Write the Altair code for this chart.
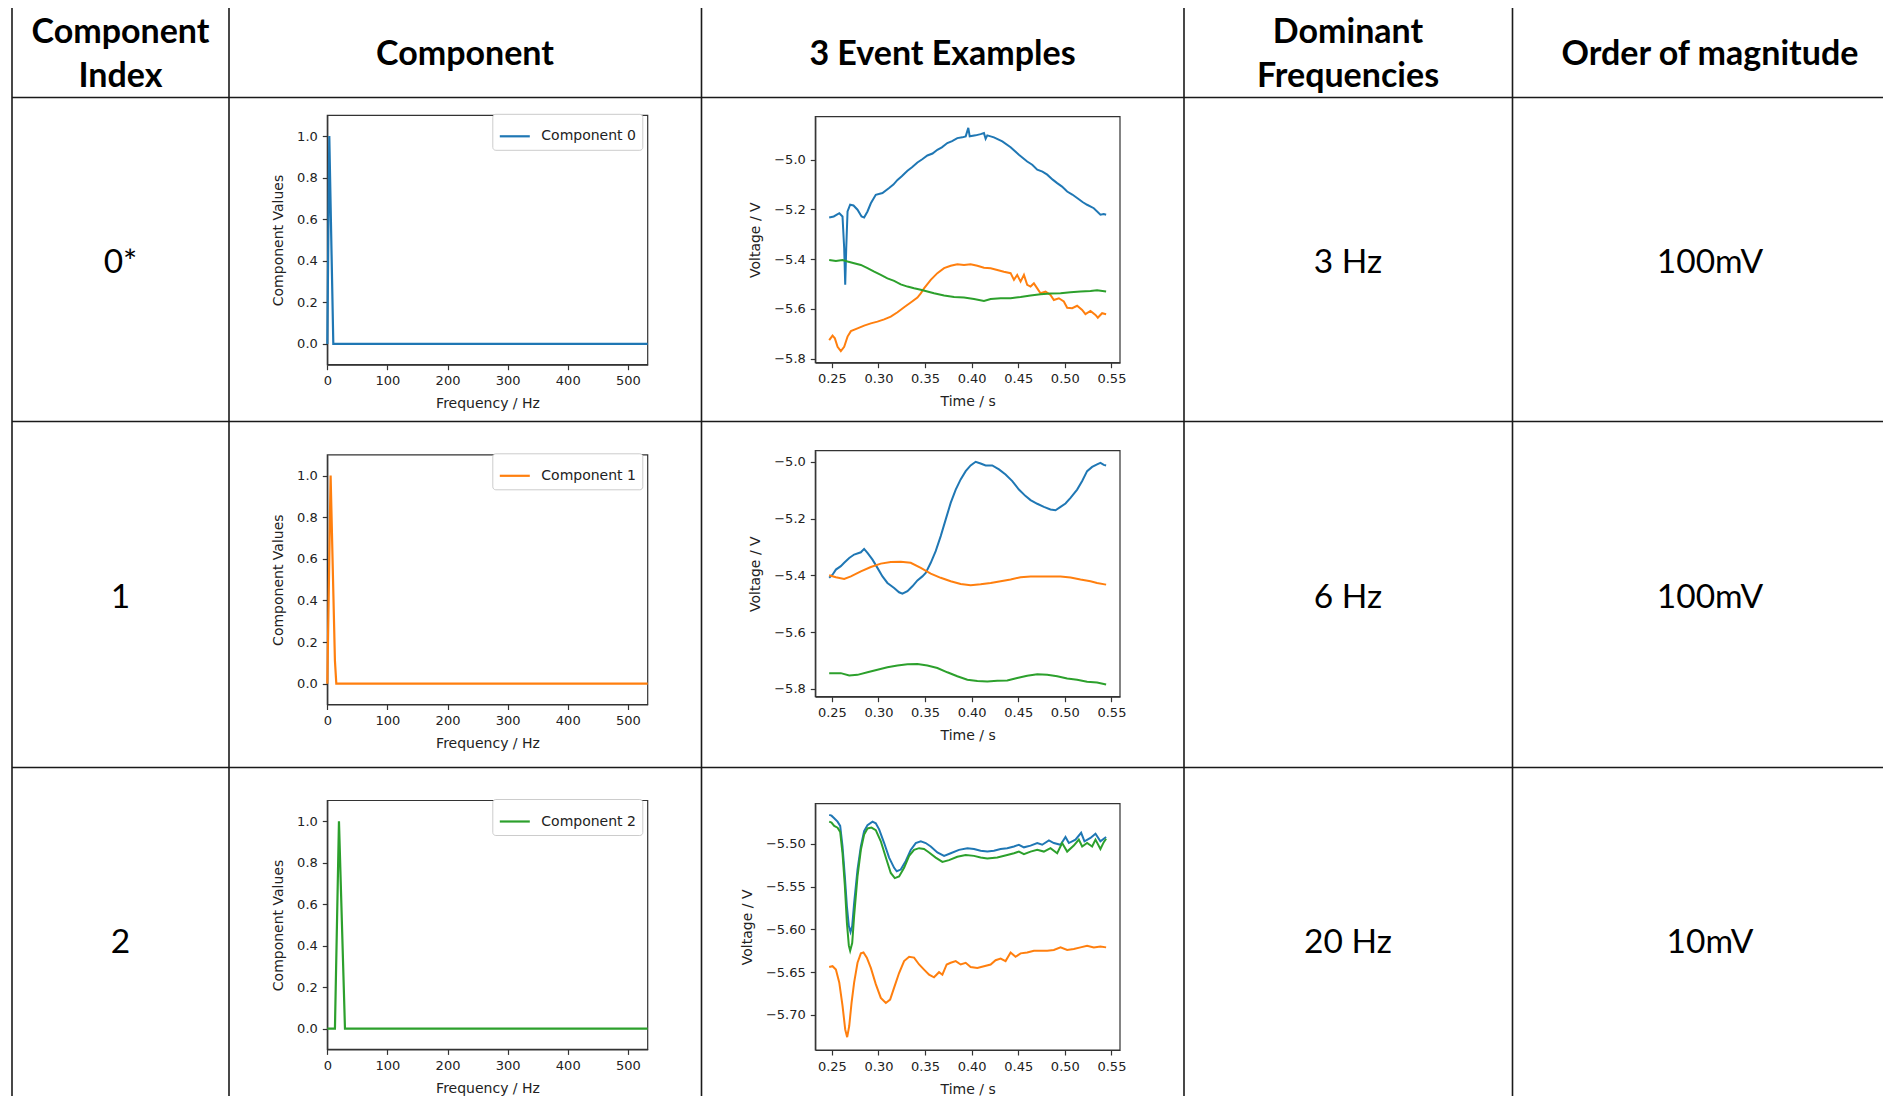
import altair as alt
import pandas as pd

# ---------------- table text ----------------
HEADERS = ["Component\nIndex", "Component", "3 Event Examples", "Dominant\nFrequencies", "Order of magnitude"]
INDEX_LABELS = ["0*", "1", "2"]
DOMINANT_FREQ = ["3 Hz", "6 Hz", "20 Hz"]
MAGNITUDE = ["100mV", "100mV", "10mV"]

# ---------------- component spectra ----------------
COMP_NAMES = ["Component 0", "Component 1", "Component 2"]
COMP_COLORS = ["#1f77b4", "#ff7f0e", "#2ca02c"]
comp0_freq = [0, 3.3, 10, 533]
comp0_val = [0.0, 1.0, 0.0, 0.0]
comp1_freq = [0, 5.5, 12.7, 15, 533]
comp1_val = [0.0, 1.0, 0.11, 0.0, 0.0]
comp2_freq = [0, 12.7, 19.4, 29.4, 533]
comp2_val = [0.0, 0.0, 1.0, 0.0, 0.0]
FREQ_TICKS = [0, 100, 200, 300, 400, 500]
COMP_TICKS = [0.0, 0.2, 0.4, 0.6, 0.8, 1.0]

# ---------------- event examples (time s, voltage V) ----------------
EVENT_COLORS = ["#1f77b4", "#ff7f0e", "#2ca02c"]
TIME_TICKS = [0.25, 0.30, 0.35, 0.40, 0.45, 0.50, 0.55]

ev0_blue = [(0.2471,-5.232),(0.2520,-5.228),(0.2580,-5.215),(0.2614,-5.228),(0.2632,-5.356),(0.2643,-5.503),
            (0.2654,-5.356),(0.2668,-5.208),(0.2696,-5.181),(0.2732,-5.184),(0.2775,-5.201),(0.2818,-5.228),
            (0.2846,-5.232),(0.2882,-5.208),(0.2918,-5.175),(0.2971,-5.141),(0.3043,-5.134),(0.3114,-5.114),
            (0.3160,-5.100),(0.3204,-5.081),(0.3250,-5.066),(0.3311,-5.044),(0.3360,-5.030),(0.3418,-5.011),
            (0.3470,-4.998),(0.3525,-4.983),(0.3580,-4.975),(0.3632,-4.960),(0.3680,-4.950),(0.3739,-4.933),
            (0.3790,-4.925),(0.3846,-4.913),(0.3900,-4.910),(0.3936,-4.906),(0.3964,-4.872),(0.3979,-4.906),
            (0.4043,-4.902),(0.4096,-4.897),(0.4132,-4.893),(0.4150,-4.916),(0.4168,-4.902),(0.4239,-4.910),
            (0.4329,-4.926),(0.4418,-4.950),(0.4507,-4.980),(0.4596,-5.007),(0.4650,-5.020),(0.4704,-5.040),
            (0.4760,-5.048),(0.4811,-5.060),(0.4870,-5.080),(0.4918,-5.094),(0.4970,-5.108),(0.5025,-5.128),
            (0.5080,-5.140),(0.5132,-5.154),(0.5190,-5.170),(0.5239,-5.181),(0.5311,-5.195),(0.5382,-5.221),
            (0.5418,-5.218),(0.5443,-5.221)]
ev0_orange = [(0.2471,-5.725),(0.2507,-5.707),(0.2532,-5.718),(0.2561,-5.752),(0.2596,-5.769),(0.2632,-5.752),
              (0.2668,-5.711),(0.2704,-5.689),(0.2775,-5.678),(0.2846,-5.667),(0.2918,-5.658),(0.2989,-5.651),
              (0.3061,-5.642),(0.3132,-5.631),(0.3204,-5.613),(0.3275,-5.593),(0.3346,-5.574),(0.3418,-5.554),
              (0.3454,-5.537),(0.3489,-5.517),(0.3561,-5.483),(0.3632,-5.456),(0.3704,-5.436),(0.3775,-5.426),
              (0.3846,-5.420),(0.3918,-5.423),(0.3989,-5.420),(0.4061,-5.426),(0.4132,-5.434),(0.4204,-5.436),
              (0.4275,-5.443),(0.4346,-5.450),(0.4418,-5.456),(0.4454,-5.483),(0.4489,-5.463),(0.4525,-5.490),
              (0.4561,-5.463),(0.4596,-5.503),(0.4632,-5.510),(0.4668,-5.497),(0.4704,-5.517),(0.4739,-5.537),
              (0.4793,-5.530),(0.4846,-5.544),(0.4882,-5.564),(0.4936,-5.557),(0.4989,-5.570),(0.5025,-5.595),
              (0.5079,-5.597),(0.5132,-5.587),(0.5186,-5.604),(0.5221,-5.621),(0.5275,-5.608),(0.5329,-5.624),
              (0.5354,-5.635),(0.5400,-5.617),(0.5443,-5.621)]
ev0_green = [(0.2471,-5.403),(0.2543,-5.407),(0.2614,-5.403),(0.2668,-5.409),(0.2739,-5.416),(0.2811,-5.423),
             (0.2882,-5.436),(0.2954,-5.450),(0.3025,-5.463),(0.3096,-5.477),(0.3168,-5.487),(0.3239,-5.501),
             (0.3311,-5.510),(0.3382,-5.517),(0.3454,-5.523),(0.3525,-5.530),(0.3596,-5.537),(0.3704,-5.546),
             (0.3811,-5.552),(0.3918,-5.554),(0.4025,-5.560),(0.4132,-5.568),(0.4204,-5.560),(0.4311,-5.557),
             (0.4418,-5.557),(0.4525,-5.552),(0.4632,-5.546),(0.4739,-5.541),(0.4846,-5.538),(0.4954,-5.537),
             (0.5061,-5.533),(0.5168,-5.530),(0.5275,-5.528),(0.5346,-5.525),(0.5443,-5.530)]

ev1_blue = [(0.2471,-5.409),(0.2507,-5.398),(0.2543,-5.380),(0.2596,-5.368),(0.2632,-5.356),(0.2686,-5.339),
            (0.2739,-5.327),(0.2811,-5.319),(0.2846,-5.307),(0.2882,-5.321),(0.2936,-5.345),(0.2989,-5.374),
            (0.3043,-5.404),(0.3096,-5.427),(0.3168,-5.445),(0.3221,-5.460),(0.3257,-5.465),(0.3311,-5.456),
            (0.3364,-5.439),(0.3418,-5.418),(0.3471,-5.404),(0.3507,-5.392),(0.3561,-5.356),(0.3614,-5.315),
            (0.3668,-5.262),(0.3721,-5.204),(0.3775,-5.145),(0.3829,-5.098),(0.3882,-5.062),(0.3936,-5.033),
            (0.3989,-5.013),(0.4043,-5.000),(0.4096,-5.006),(0.4150,-5.013),(0.4221,-5.013),(0.4293,-5.027),
            (0.4364,-5.045),(0.4436,-5.068),(0.4507,-5.098),(0.4579,-5.121),(0.4632,-5.135),(0.4704,-5.148),
            (0.4775,-5.159),(0.4846,-5.168),(0.4900,-5.171),(0.4954,-5.159),(0.5007,-5.147),(0.5061,-5.127),
            (0.5132,-5.098),(0.5186,-5.068),(0.5239,-5.033),(0.5293,-5.018),(0.5346,-5.009),(0.5382,-5.004),
            (0.5418,-5.011),(0.5443,-5.013)]
ev1_orange = [(0.2471,-5.400),(0.2543,-5.407),(0.2632,-5.413),(0.2704,-5.404),(0.2811,-5.386),(0.2918,-5.371),
              (0.3025,-5.359),(0.3132,-5.353),(0.3239,-5.352),(0.3346,-5.356),(0.3454,-5.374),(0.3561,-5.394),
              (0.3668,-5.409),(0.3775,-5.421),(0.3882,-5.431),(0.3989,-5.435),(0.4096,-5.432),(0.4204,-5.427),
              (0.4311,-5.421),(0.4418,-5.415),(0.4525,-5.407),(0.4632,-5.404),(0.4739,-5.404),(0.4846,-5.404),
              (0.4954,-5.404),(0.5061,-5.408),(0.5168,-5.415),(0.5275,-5.421),(0.5346,-5.427),(0.5443,-5.433)]
ev1_green = [(0.2471,-5.745),(0.2596,-5.745),(0.2686,-5.753),(0.2775,-5.751),(0.2882,-5.742),(0.2989,-5.733),
             (0.3096,-5.724),(0.3204,-5.718),(0.3311,-5.714),(0.3418,-5.713),(0.3525,-5.718),(0.3632,-5.727),
             (0.3739,-5.742),(0.3846,-5.756),(0.3954,-5.768),(0.4061,-5.773),(0.4168,-5.774),(0.4275,-5.772),
             (0.4382,-5.771),(0.4489,-5.762),(0.4596,-5.754),(0.4704,-5.749),(0.4811,-5.751),(0.4918,-5.756),
             (0.5025,-5.764),(0.5132,-5.768),(0.5239,-5.775),(0.5346,-5.778),(0.5443,-5.785)]

ev2_blue = [(0.2471,-5.466),(0.2496,-5.467),(0.2525,-5.470),(0.2561,-5.474),(0.2589,-5.479),(0.2614,-5.503),
            (0.2639,-5.538),(0.2661,-5.573),(0.2682,-5.596),(0.2700,-5.603),(0.2718,-5.596),(0.2739,-5.569),
            (0.2775,-5.530),(0.2811,-5.503),(0.2846,-5.485),(0.2882,-5.478),(0.2936,-5.474),(0.2971,-5.476),
            (0.3007,-5.483),(0.3061,-5.499),(0.3114,-5.516),(0.3168,-5.528),(0.3196,-5.532),(0.3239,-5.530),
            (0.3293,-5.520),(0.3346,-5.507),(0.3400,-5.499),(0.3454,-5.497),(0.3507,-5.499),(0.3561,-5.503),
            (0.3632,-5.510),(0.3704,-5.514),(0.3775,-5.511),(0.3864,-5.507),(0.3954,-5.505),(0.4025,-5.506),
            (0.4096,-5.508),(0.4168,-5.509),(0.4239,-5.508),(0.4311,-5.506),(0.4382,-5.505),(0.4454,-5.503),
            (0.4507,-5.501),(0.4561,-5.504),(0.4632,-5.502),(0.4704,-5.499),(0.4757,-5.501),(0.4829,-5.496),
            (0.4882,-5.499),(0.4954,-5.501),(0.5007,-5.492),(0.5043,-5.499),(0.5114,-5.495),(0.5175,-5.487),
            (0.5211,-5.497),(0.5275,-5.493),(0.5329,-5.488),(0.5382,-5.497),(0.5418,-5.494),(0.5443,-5.492)]
ev2_orange = [(0.2471,-5.644),(0.2507,-5.643),(0.2543,-5.647),(0.2579,-5.662),(0.2614,-5.689),(0.2643,-5.717),
              (0.2664,-5.726),(0.2686,-5.713),(0.2711,-5.686),(0.2739,-5.662),(0.2775,-5.639),(0.2811,-5.628),
              (0.2839,-5.627),(0.2875,-5.633),(0.2918,-5.645),(0.2971,-5.664),(0.3025,-5.680),(0.3079,-5.686),
              (0.3125,-5.682),(0.3168,-5.668),(0.3221,-5.651),(0.3275,-5.637),(0.3329,-5.632),(0.3382,-5.633),
              (0.3436,-5.641),(0.3489,-5.647),(0.3543,-5.653),(0.3596,-5.656),(0.3650,-5.650),(0.3686,-5.653),
              (0.3732,-5.641),(0.3775,-5.639),(0.3829,-5.637),(0.3882,-5.641),(0.3936,-5.639),(0.3989,-5.644),
              (0.4061,-5.645),(0.4132,-5.643),(0.4204,-5.641),(0.4257,-5.636),(0.4311,-5.634),(0.4364,-5.637),
              (0.4418,-5.627),(0.4471,-5.632),(0.4525,-5.628),(0.4596,-5.627),(0.4668,-5.625),(0.4739,-5.625),
              (0.4811,-5.625),(0.4882,-5.624),(0.4954,-5.621),(0.5025,-5.624),(0.5096,-5.623),(0.5168,-5.621),
              (0.5239,-5.619),(0.5311,-5.621),(0.5382,-5.620),(0.5443,-5.621)]
ev2_green = [(0.2471,-5.474),(0.2496,-5.475),(0.2525,-5.479),(0.2561,-5.481),(0.2589,-5.486),(0.2614,-5.511),
             (0.2639,-5.549),(0.2661,-5.592),(0.2682,-5.619),(0.2696,-5.625),(0.2718,-5.616),(0.2739,-5.584),
             (0.2775,-5.538),(0.2811,-5.507),(0.2846,-5.489),(0.2882,-5.482),(0.2925,-5.481),(0.2971,-5.484),
             (0.3025,-5.497),(0.3079,-5.516),(0.3132,-5.534),(0.3175,-5.540),(0.3221,-5.538),(0.3275,-5.528),
             (0.3329,-5.514),(0.3382,-5.507),(0.3436,-5.505),(0.3489,-5.506),(0.3543,-5.510),(0.3614,-5.516),
             (0.3686,-5.521),(0.3757,-5.519),(0.3846,-5.515),(0.3936,-5.513),(0.4025,-5.514),(0.4096,-5.516),
             (0.4168,-5.517),(0.4275,-5.516),(0.4382,-5.513),(0.4454,-5.511),(0.4507,-5.509),(0.4561,-5.512),
             (0.4632,-5.509),(0.4704,-5.507),(0.4775,-5.509),(0.4846,-5.505),(0.4918,-5.511),(0.4971,-5.499),
             (0.5025,-5.509),(0.5096,-5.502),(0.5150,-5.495),(0.5186,-5.503),(0.5239,-5.499),(0.5293,-5.503),
             (0.5329,-5.495),(0.5382,-5.506),(0.5418,-5.498),(0.5443,-5.494)]

EVENT_YDOMAINS = [[-5.816, -4.827], [-5.828, -4.961], [-5.741, -5.453]]
EVENT_YTICKS = [[-5.8, -5.6, -5.4, -5.2, -5.0], [-5.8, -5.6, -5.4, -5.2, -5.0],
                [-5.70, -5.65, -5.60, -5.55, -5.50]]
EVENT_YFMT = [".1f", ".1f", ".2f"]

# ---------------- layout (page pixels) ----------------
OX, OY = 8, 8
W, H = 1875, 1088
COL_X = [12, 229, 701.5, 1184, 1512.5]
ROW_Y = [6, 97.5, 421.5, 767.5]
HEAD_X = [120.5, 465, 942.5, 1348, 1710]
HEAD_BASE = [43.3, 65, 65, 43.3, 65]
BODY_BASE = [273, 608, 953]
COMP_LR = (327.3, 647.7)
COMP_TB = [(115.3, 364.7), (454.8, 704.5), (800.5, 1049.4)]
EVENT_LR = (815.3, 1120.0)
EVENT_TB = [(116.7, 362.7), (450.7, 696.7), (803.7, 1050.0)]
T_DOMAIN = [0.2322, 0.5592]
F_DOMAIN = [0, 533]
C_DOMAIN = [-0.1, 1.1]

F = "DejaVu Sans"
AX = "#333333"
TXT = "#222222"
LINE = "#1a1a1a"


def axis(orient, offset, values, fmt, title, title_pad):
    return alt.Axis(orient=orient, offset=offset, values=values, format=fmt, title=title, grid=False,
                    labelFlush=False, labelOverlap=False, tickSize=5, labelPadding=5, titlePadding=title_pad,
                    domainColor=AX, tickColor=AX, labelColor=TXT, titleColor=TXT, labelFont=F, titleFont=F,
                    labelFontSize=13, titleFontSize=14, titleFontWeight="normal", domainWidth=1.2, tickWidth=1.2)


# ---------------- table grid ----------------
segs = []
for x in COL_X:
    segs.append({"x1": x - OX, "y1": ROW_Y[0] - OY, "x2": x - OX, "y2": H})
for y in ROW_Y:
    segs.append({"x1": COL_X[0] - OX, "y1": y - OY, "x2": W, "y2": y - OY})
grid = alt.Chart(pd.DataFrame(segs)).mark_rule(color=LINE, strokeWidth=1.6).encode(
    x=alt.X("x1:Q", scale=None, axis=None), y=alt.Y("y1:Q", scale=None, axis=None),
    x2="x2:Q", y2="y2:Q")

head_df = pd.DataFrame({"label": HEADERS, "x": [v - OX for v in HEAD_X], "y": [v - OY for v in HEAD_BASE]})
heads = alt.Chart(head_df).mark_text(font="Lato", fontSize=34, fontWeight="bold", color="black",
                                     align="center", baseline="alphabetic", lineBreak="\n", lineHeight=44).encode(
    x=alt.X("x:Q", scale=None, axis=None), y=alt.Y("y:Q", scale=None, axis=None), text="label:N")

body_rows = []
for i in range(3):
    for col, lab in ((0, INDEX_LABELS[i]), (3, DOMINANT_FREQ[i]), (4, MAGNITUDE[i])):
        body_rows.append({"label": lab, "x": HEAD_X[col] - OX, "y": BODY_BASE[i] - OY})
body = alt.Chart(pd.DataFrame(body_rows)).mark_text(font="Lato", fontSize=33.5, color="black",
                                                    align="center", baseline="alphabetic").encode(
    x=alt.X("x:Q", scale=None, axis=None), y=alt.Y("y:Q", scale=None, axis=None), text="label:N")


# ---------------- component charts ----------------
def comp_chart(i, freqs, vals):
    L, R = COMP_LR
    T, B = COMP_TB[i]
    xs = alt.Scale(domain=F_DOMAIN, range=[L - OX, R - OX], nice=False, zero=False)
    ys = alt.Scale(domain=C_DOMAIN, range=[B - OY, T - OY], nice=False, zero=False)
    xa = axis("bottom", (B - OY) - H, FREQ_TICKS, "d", "Frequency / Hz", 9)
    ya = axis("left", -(L - OX), COMP_TICKS, ".1f", "Component Values", 11)
    df = pd.DataFrame({"freq": freqs, "val": vals, "name": COMP_NAMES[i]})
    fr = pd.DataFrame({"x0": [F_DOMAIN[0]], "x1": [F_DOMAIN[1]], "y0": [C_DOMAIN[0]], "y1": [C_DOMAIN[1]]})
    frame = alt.Chart(fr).mark_rect(fill="white", fillOpacity=0, stroke=AX, strokeWidth=1.2).encode(
        x=alt.X("x0:Q", scale=xs, axis=xa), x2="x1:Q", y=alt.Y("y0:Q", scale=ys, axis=ya), y2="y1:Q")
    line = alt.Chart(df).mark_line(strokeWidth=2.2).encode(
        x=alt.X("freq:Q", scale=xs, axis=xa), y=alt.Y("val:Q", scale=ys, axis=ya),
        color=alt.Color("name:N", scale=alt.Scale(domain=[COMP_NAMES[i]], range=[COMP_COLORS[i]]),
                        legend=alt.Legend(orient="none", legendX=492.3 - OX, legendY=T - 1.5 - OY, title=None,
                                          symbolType="stroke", symbolSize=900, symbolStrokeWidth=2.2,
                                          labelFont=F, labelFontSize=14, labelColor=TXT, labelOffset=10,
                                          padding=6, strokeColor="#cccccc", fillColor="white", cornerRadius=3)))
    return alt.layer(frame, line)


def event_chart(i, series):
    L, R = EVENT_LR
    T, B = EVENT_TB[i]
    xs = alt.Scale(domain=T_DOMAIN, range=[L - OX, R - OX], nice=False, zero=False)
    ys = alt.Scale(domain=EVENT_YDOMAINS[i], range=[B - OY, T - OY], nice=False, zero=False)
    xa = axis("bottom", (B - OY) - H, TIME_TICKS, ".2f", "Time / s", 9)
    ya = axis("left", -(L - OX), EVENT_YTICKS[i], EVENT_YFMT[i], "Voltage / V", 11)
    rows = []
    for k, pts in enumerate(series):
        for t, v in pts:
            rows.append({"t": t, "v": v, "ev": "Event %d" % (k + 1)})
    df = pd.DataFrame(rows)
    yd = EVENT_YDOMAINS[i]
    fr = pd.DataFrame({"x0": [T_DOMAIN[0]], "x1": [T_DOMAIN[1]], "y0": [yd[0]], "y1": [yd[1]]})
    frame = alt.Chart(fr).mark_rect(fill="white", fillOpacity=0, stroke=AX, strokeWidth=1.2).encode(
        x=alt.X("x0:Q", scale=xs, axis=xa), x2="x1:Q", y=alt.Y("y0:Q", scale=ys, axis=ya), y2="y1:Q")
    line = alt.Chart(df).mark_line(strokeWidth=2).encode(
        x=alt.X("t:Q", scale=xs, axis=xa), y=alt.Y("v:Q", scale=ys, axis=ya),
        color=alt.Color("ev:N", scale=alt.Scale(domain=["Event 1", "Event 2", "Event 3"], range=EVENT_COLORS),
                        legend=None))
    return alt.layer(frame, line)


subs = [
    comp_chart(0, comp0_freq, comp0_val),
    comp_chart(1, comp1_freq, comp1_val),
    comp_chart(2, comp2_freq, comp2_val),
    event_chart(0, [ev0_blue, ev0_orange, ev0_green]),
    event_chart(1, [ev1_blue, ev1_orange, ev1_green]),
    event_chart(2, [ev2_blue, ev2_orange, ev2_green]),
]

chart = alt.layer(grid, heads, body, *subs).resolve_scale(
    x="independent", y="independent", color="independent"
).resolve_axis(x="independent", y="independent").resolve_legend(color="independent").properties(
    width=W, height=H, padding=0, autosize=alt.AutoSizeParams(type="none"), background="white"
).configure_view(strokeWidth=0)

chart.save("out.html", embed_options={"renderer": "svg", "actions": False})
